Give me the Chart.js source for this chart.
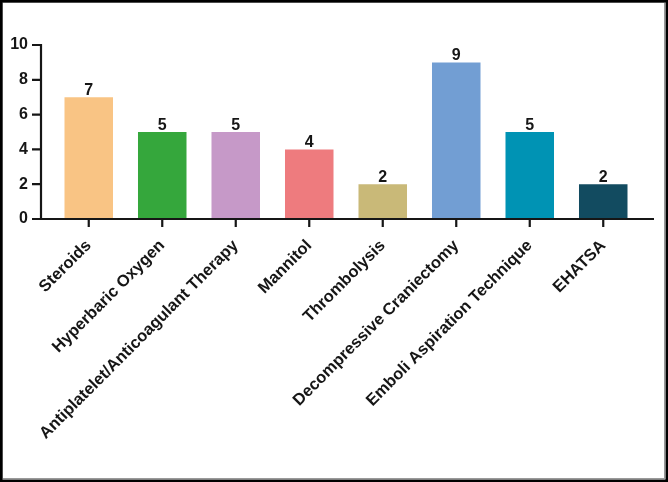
<!DOCTYPE html>
<html>
<head>
<meta charset="utf-8">
<script src="https://cdn.jsdelivr.net/npm/chart.js@4"></script>
<style>
  html, body { margin: 0; padding: 0; background: #fff; }
  #wrap { width: 668px; height: 482px; }
</style>
</head>
<body>
<div id="wrap"><canvas id="myChart" width="668" height="482"></canvas></div>
<script>
const categories = ['Steroids', 'Hyperbaric Oxygen', 'Antiplatelet/Anticoagulant Therapy', 'Mannitol',
    'Thrombolysis', 'Decompressive Craniectomy', 'Emboli Aspiration Technique', 'EHATSA'];
const counts = [7, 5, 5, 4, 2, 9, 5, 2];
const barColors = ['#F9C484', '#35A73C', '#C699C8', '#EE7B7E', '#C9B978', '#729ED3', '#0093B4', '#124B60'];
const yTicks = [0, 2, 4, 6, 8, 10];

const FONT = '"Liberation Sans", Arial, sans-serif';
const INK = '#161616';

// axes, tick marks, value labels and the outer frame
const extras = {
    id: 'extras',
    afterDatasetsDraw(chart) {
        const ctx = chart.ctx;
        const x = chart.scales.x;
        const y = chart.scales.y;
        const axisX = 41;
        const y0 = y.getPixelForValue(0);
        ctx.save();
        ctx.strokeStyle = INK;
        ctx.lineWidth = 2.2;
        ctx.beginPath();
        ctx.moveTo(axisX, y.getPixelForValue(10) - 1);
        ctx.lineTo(axisX, y0);
        ctx.lineTo(654, y0);
        yTicks.forEach(v => {
            const py = y.getPixelForValue(v);
            ctx.moveTo(32, py);
            ctx.lineTo(axisX, py);
        });
        categories.forEach((c, i) => {
            const px = x.getPixelForValue(i);
            ctx.moveTo(px, y0);
            ctx.lineTo(px, y0 + 8);
        });
        ctx.stroke();

        ctx.fillStyle = INK;
        ctx.font = 'bold 16px ' + FONT;
        ctx.textAlign = 'center';
        ctx.textBaseline = 'alphabetic';
        chart.getDatasetMeta(0).data.forEach((bar, i) => {
            ctx.fillText(String(counts[i]), bar.x, bar.y - 2);
        });

        ctx.strokeStyle = '#999';
        ctx.lineWidth = 1;
        ctx.strokeRect(2.5, 2.5, 662, 476);
        ctx.strokeStyle = '#000';
        ctx.lineWidth = 2.5;
        ctx.strokeRect(1.25, 1.25, 665.5, 479.5);
        ctx.restore();
    }
};

const ctx = document.getElementById('myChart').getContext('2d');
const myChart = new Chart(ctx, {
    type: 'bar',
    data: {
        labels: categories,
        datasets: [{
            data: counts,
            backgroundColor: barColors,
            borderWidth: 0,
            barPercentage: 0.66,
            categoryPercentage: 1
        }]
    },
    options: {
        responsive: false,
        animation: false,
        layout: { padding: { left: 0, right: 28, top: 45, bottom: 0 } },
        plugins: {
            legend: { display: false },
            tooltip: { enabled: false }
        },
        scales: {
            x: {
                grid: { display: false, drawTicks: false, tickLength: 0 },
                border: { display: false },
                ticks: {
                    color: INK,
                    font: { family: FONT, size: 16.5, weight: 'bold' },
                    minRotation: 45,
                    maxRotation: 45,
                    autoSkip: false,
                    padding: 17
                },
                afterFit(scale) { scale.height = 263; }
            },
            y: {
                min: 0,
                max: 10,
                grid: { display: false, drawTicks: false, tickLength: 0 },
                border: { display: false },
                ticks: {
                    stepSize: 2,
                    color: INK,
                    font: { family: FONT, size: 16, weight: 'bold' },
                    padding: 24
                },
                afterFit(scale) { scale.width = 52; }
            }
        }
    },
    plugins: [extras]
});
</script>
</body>
</html>
